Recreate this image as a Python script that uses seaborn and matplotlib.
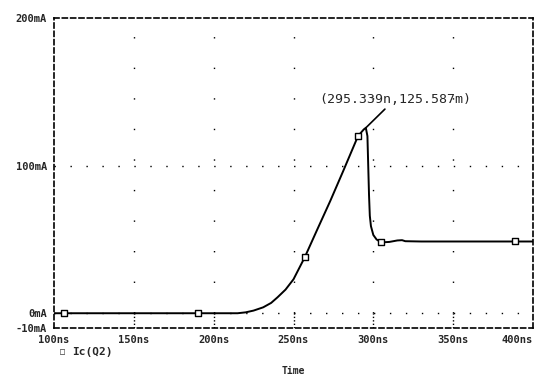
import numpy as np
import pandas as pd
import matplotlib
matplotlib.use("Agg")
import matplotlib.pyplot as plt
import seaborn as sns

# data (ns, mA)
time_ns = [100, 106, 150, 190, 215, 220, 225, 231, 236, 240, 245, 250, 257, 265, 273, 281, 290.4,
           294, 295.3, 296.3, 296.8, 297.3, 297.8, 298.5, 300, 302, 304.8, 310, 315, 318, 320,
           330, 350, 389, 400]
ic_mA = [0, 0, 0, 0, 0, 0.6, 1.8, 4, 7, 10.8, 16, 23, 37.8, 57, 76, 96, 120,
         124.5, 125.6, 120, 100, 80, 66, 59, 53, 50, 48, 48.3, 49.3, 49.5, 48.8,
         48.6, 48.6, 48.6, 48.6]
marker_t = [106, 190, 257, 290.4, 304.8, 389]
marker_i = [0, 0, 37.8, 120, 48, 48.6]
x_ticks = [100, 150, 200, 250, 300, 350, 400]
x_labels = ["100ns", "150ns", "200ns", "250ns", "300ns", "350ns", "400ns"]
y_ticks = [-10, 0, 100, 200]
y_labels = ["-10mA", "0mA", "100mA", "200mA"]
series_name = "Ic(Q2)"
peak_label = "(295.339n,125.587m)"

sns.set_style("white")
plt.rcParams['font.family'] = ['DejaVu Sans Mono', 'DejaVu Sans']

fig = plt.figure(figsize=(5.43, 3.8), dpi=100)
ax = fig.add_axes([54/543, 1-328/380, (533-54)/543, (328-18)/380])

df = pd.DataFrame({"t": time_ns, "i": ic_mA})
sns.lineplot(data=df, x="t", y="i", ax=ax, color="black", linewidth=1.4, sort=False)
mk = pd.DataFrame({"t": marker_t, "i": marker_i})
sns.scatterplot(data=mk, x="t", y="i", ax=ax, marker="s", s=14, facecolor="white",
                edgecolor="black", linewidth=1.0, zorder=5)

ax.set_xlim(100, 400)
ax.set_ylim(-10, 200)

# dotted grid
for xv in x_ticks[1:-1]:
    ax.plot([xv, xv], [0, 200], color="black", linewidth=1.0, linestyle=(0, (1, 21)))
    ax.plot([xv, xv], [-10, 0], color="black", linewidth=1.0, linestyle=(0, (1, 1.5)))
for yv in [0, 100]:
    ax.plot([100, 400], [yv, yv], color="black", linewidth=1.0, linestyle=(0, (1, 10.5)))

for sp in ax.spines.values():
    sp.set_linestyle((0, (3, 2)))
    sp.set_linewidth(1.2)
    sp.set_color("black")

ax.set_xticks(x_ticks)
ax.set_xticklabels(x_labels, fontsize=7.5, fontweight="bold")
ax.get_xticklabels()[-1].set_horizontalalignment("right")
ax.set_yticks(y_ticks)
ax.set_yticklabels(y_labels, fontsize=7.5, fontweight="bold")
ax.tick_params(axis="both", direction="inout", length=6, width=1.0, pad=2)
ax.set_xlabel("Time", fontsize=7, fontweight="bold", labelpad=15)
ax.set_ylabel("")

# annotation of peak
ax.annotate(peak_label, xy=(295.3, 125.6), xytext=(313.5, 140.5),
            fontsize=9.5, ha="center", va="bottom",
            arrowprops=dict(arrowstyle="-", color="black", lw=1.2, shrinkA=0, shrinkB=0))

# legend
fig.text(62/543, 1-352/380, "\u25a1", fontsize=6, va="center", ha="center")
fig.text(72/543, 1-352/380, series_name, fontsize=8, fontweight="bold", va="center", ha="left")

fig.savefig("out.png", dpi=100)
